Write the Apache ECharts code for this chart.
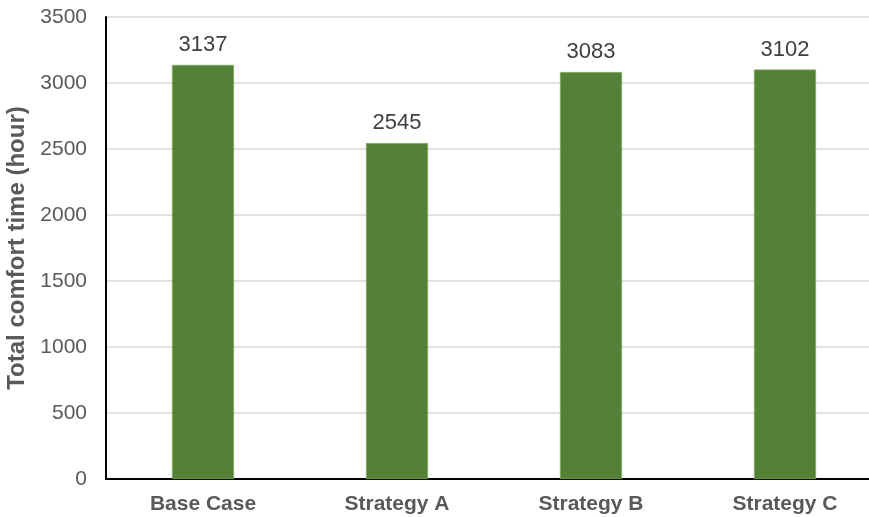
<!DOCTYPE html>
<html>
<head>
<meta charset="utf-8">
<script src="https://cdn.jsdelivr.net/npm/echarts@6/dist/echarts.min.js"></script>
<style>html,body{margin:0;padding:0;background:#fff}#c{width:869px;height:517px}</style>
</head>
<body>
<div id="c"></div>
<script>
// Total comfort time per strategy
const categories = ['Base Case', 'Strategy A', 'Strategy B', 'Strategy C'];
const comfortHours = [3137, 2545, 3083, 3102];
const yTicks = { min: 0, max: 3500, interval: 500 };

const font = 'Arial, "Liberation Sans", sans-serif';
const chart = echarts.init(document.getElementById('c'));
chart.setOption({
  animation: false,
  grid: { left: 106, width: 776, top: 17, bottom: 38, outerBoundsMode: 'none' },
  xAxis: {
    type: 'category',
    data: categories,
    axisLine: { lineStyle: { color: '#000', width: 2 } },
    axisTick: { show: false },
    axisLabel: { color: '#595959', fontFamily: font, fontSize: 21, fontWeight: 'bold', margin: 15 }
  },
  yAxis: {
    type: 'value',
    min: yTicks.min, max: yTicks.max, interval: yTicks.interval,
    name: 'Total comfort time (hour)',
    nameLocation: 'middle',
    nameGap: 74,
    nameTextStyle: { color: '#595959', fontFamily: font, fontSize: 24, fontWeight: 'bold' },
    axisLine: { show: true, lineStyle: { color: '#000', width: 2 } },
    axisTick: { show: false },
    axisLabel: { color: '#595959', fontFamily: font, fontSize: 21, margin: 19, formatter: v => String(v) },
    splitLine: { lineStyle: { color: '#d9d9d9', width: 1.5 } }
  },
  series: [{
    type: 'bar',
    data: comfortHours,
    barWidth: '32%',
    itemStyle: { color: '#538135', borderColor: '#8fb06f', borderWidth: 0.6 },
    label: { show: true, position: 'top', distance: 9, color: '#404040', fontFamily: font, fontSize: 22 }
  }]
});
</script>
</body>
</html>
